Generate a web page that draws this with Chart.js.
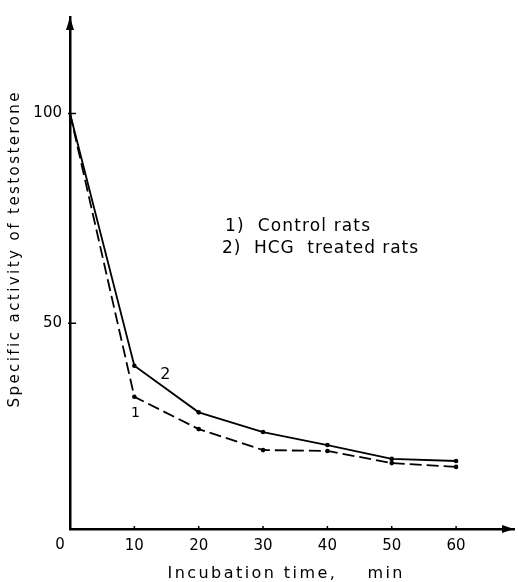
<!DOCTYPE html>
<html>
<head>
<meta charset="utf-8">
<script src="https://cdn.jsdelivr.net/npm/chart.js@4/dist/chart.umd.min.js"></script>
<style>
html,body{margin:0;padding:0;background:#fff;}
#wrap{width:518px;height:582px;position:relative;}
</style>
</head>
<body>
<div id="wrap"><canvas id="c" width="518" height="582"></canvas></div>
<script>
// ---- data ----
const times = [0, 10, 20, 30, 40, 50, 60];
const controlRats = [100, 32.5, 24.8, 19.8, 19.6, 16.7, 15.8];
const hcgRats = [100, 39.9, 28.8, 24.1, 21.0, 17.7, 17.2];
const xTicks = [0, 10, 20, 30, 40, 50, 60];
const yTicks = [50, 100];
const xTitle = 'Incubation time,    min';
const yTitle = 'Specific activity of testosterone';
const legendLines = ['1)  Control rats', '2)  HCG  treated rats'];
const curveLabels = ['1', '2'];

const FONT = '"DejaVu Sans", sans-serif';
const toXY = (arr) => arr.map((v, i) => ({x: times[i], y: v}));

function spacedText(ctx, text, x, y, size, targetW, align) {
  ctx.save();
  ctx.font = size + 'px ' + FONT;
  ctx.letterSpacing = '0px';
  const w = ctx.measureText(text).width;
  const ls = targetW ? (targetW - w) / (text.length - 1) : 0;
  ctx.letterSpacing = ls + 'px';
  const W = ctx.measureText(text).width - ls;
  let sx = x;
  if (align === 'center') sx = x - W / 2;
  ctx.textAlign = 'left';
  ctx.fillText(text, sx, y);
  ctx.restore();
}

const decor = {
  id: 'decor',
  afterDraw(chart) {
    const ctx = chart.ctx;
    const xs = chart.scales.x, ys = chart.scales.y;
    const ca = chart.chartArea;
    ctx.save();
    ctx.fillStyle = '#000';
    ctx.strokeStyle = '#000';
    // arrows
    ctx.beginPath();
    ctx.moveTo(ca.right, ca.bottom);
    ctx.lineTo(ca.right - 12, ca.bottom - 4);
    ctx.lineTo(ca.right - 12, ca.bottom + 4);
    ctx.closePath(); ctx.fill();
    ctx.beginPath();
    ctx.moveTo(ca.left, ca.top);
    ctx.lineTo(ca.left - 4, ca.top + 13);
    ctx.lineTo(ca.left + 4, ca.top + 13);
    ctx.closePath(); ctx.fill();
    // inward ticks
    ctx.lineWidth = 1.5;
    ctx.beginPath();
    yTicks.forEach(v => { const p = ys.getPixelForValue(v); ctx.moveTo(ca.left - 2, p); ctx.lineTo(ca.left + 6, p); });
    xTicks.forEach(v => { if (v === 0) return; const p = xs.getPixelForValue(v); ctx.moveTo(p, ca.bottom); ctx.lineTo(p, ca.bottom - 3); });
    ctx.stroke();
    // zero label
    ctx.font = '15px ' + FONT;
    ctx.textAlign = 'center';
    ctx.textBaseline = 'middle';
    ctx.fillText('0', xs.getPixelForValue(0) - 10, ca.bottom + 16);
    // titles
    ctx.textBaseline = 'middle';
    spacedText(ctx, xTitle, xs.getPixelForValue(0) + 215, 574, 16, 235, 'center');
    ctx.save();
    ctx.translate(15, 250);
    ctx.rotate(-Math.PI / 2);
    spacedText(ctx, yTitle, 0, 0, 15, 315, 'center');
    ctx.restore();
    // curve labels
    ctx.textBaseline = 'middle';
    ctx.font = '14px ' + FONT;
    ctx.textAlign = 'center';
    ctx.fillText(curveLabels[0], xs.getPixelForValue(10) + 1, ys.getPixelForValue(controlRats[1]) + 17);
    ctx.font = '16px ' + FONT;
    ctx.fillText(curveLabels[1], xs.getPixelForValue(10) + 31, ys.getPixelForValue(hcgRats[1]) + 9);
    // legend text
    ctx.textBaseline = 'alphabetic';
    spacedText(ctx, legendLines[0], 225, 231, 17, 145, 'left');
    spacedText(ctx, legendLines[1], 222, 253, 17, 196, 'left');
    ctx.restore();
  }
};

new Chart(document.getElementById('c'), {
  type: 'line',
  data: {
    datasets: [
      {
        label: 'Control rats',
        data: toXY(controlRats),
        borderColor: '#000', backgroundColor: '#000',
        borderWidth: 1.8, borderDash: [12, 5],
        pointRadius: times.map((t, i) => i === 0 ? 0 : 2.3),
        pointBorderWidth: 0,
        tension: 0, fill: false
      },
      {
        label: 'HCG treated rats',
        data: toXY(hcgRats),
        borderColor: '#000', backgroundColor: '#000',
        borderWidth: 1.8,
        pointRadius: times.map((t, i) => i === 0 ? 0 : 2.3),
        pointBorderWidth: 0,
        tension: 0, fill: false
      }
    ]
  },
  options: {
    responsive: false,
    animation: false,
    devicePixelRatio: 1,
    layout: { padding: { top: 12, right: 0, left: 0, bottom: 0 } },
    plugins: { legend: { display: false }, tooltip: { enabled: false } },
    scales: {
      x: {
        type: 'linear', min: 0, max: 69,
        afterBuildTicks: s => { s.ticks = xTicks.map(v => ({ value: v })); },
        afterFit: s => { s.height = 53; },
        grid: { display: false, drawTicks: false },
        border: { display: true, color: '#000', width: 2.5 },
        ticks: {
          color: '#000', font: { family: FONT, size: 15 }, padding: 8,
          callback: v => v === 0 ? '' : String(v)
        }
      },
      y: {
        type: 'linear', min: 1, max: 123,
        afterBuildTicks: s => { s.ticks = yTicks.map(v => ({ value: v })); },
        afterFit: s => { s.width = 70; },
        grid: { display: false, drawTicks: false },
        border: { display: true, color: '#000', width: 2.5 },
        ticks: { color: '#000', font: { family: FONT, size: 15 }, padding: 8 }
      }
    }
  },
  plugins: [decor]
});
</script>
</body>
</html>
